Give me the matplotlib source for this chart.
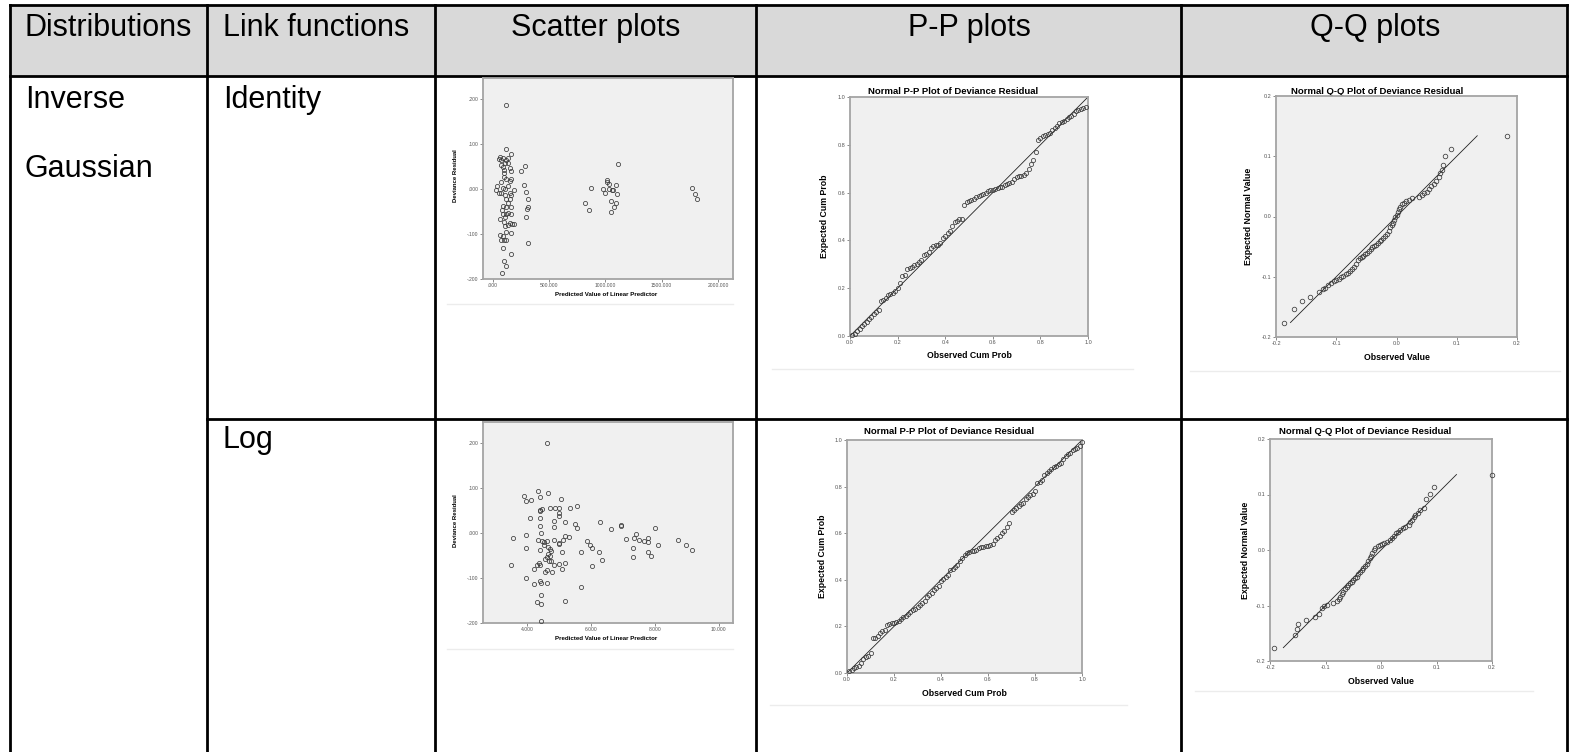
import matplotlib
matplotlib.use('Agg')
import matplotlib.pyplot as plt

# ---------------- table text ----------------
HEADERS = ['Distributions', 'Link functions', 'Scatter plots', 'P-P plots', 'Q-Q plots']
DIST = ['Inverse', 'Gaussian']
LINKS = ['Identity', 'Log']
PP_TITLE = 'Normal P-P Plot of Deviance Residual'
QQ_TITLE = 'Normal Q-Q Plot of Deviance Residual'

# ---------------- scatter: identity link ----------------
S1_X = [119, 113, 163, 59, 89, 74, 119, 134, 54, 104,
        134, 74, 95, 149, 163, 98, 250, 288, 95, 149,
        39, 30, 54, 74, 89, 104, 134, 149, 163, 184,
        273, 297, 312, 119, 149, 89, 163, 119, 312, 303,
        89, 119, 134, 158, 110, 297, 65, 95, 149, 172,
        184, 104, 134, 113, 158, 65, 89, 98, 119, 74,
        312, 89, 158, 98, 113, 83, 83, 134, 104, 68,
        119, 89, 158, 871, 814, 853, 1010, 1016, 1034, 981,
        996, 1034, 1055, 1070, 1091, 1100, 1115, 1046, 1091, 1076,
        1049, 1768, 1792, 1813]
S1_Y = [0.186, 0.090, 0.077, 0.072, 0.070, 0.065, 0.065, 0.068, 0.066, 0.057,
        0.057, 0.053, 0.042, 0.046, 0.041, 0.036, 0.041, 0.051, 0.026, 0.017,
        0.007, -0.003, -0.008, -0.008, 0.003, 0.001, 0.006, -0.009, -0.014, -0.001,
        0.009, -0.006, -0.021, -0.021, -0.021, -0.038, -0.040, -0.040, -0.040, -0.045,
        -0.056, -0.055, -0.053, -0.056, -0.062, -0.062, -0.067, -0.073, -0.076, -0.077,
        -0.077, -0.082, -0.079, -0.096, -0.098, -0.102, -0.105, -0.114, -0.114, -0.114,
        -0.121, -0.130, -0.144, -0.159, -0.172, -0.187, -0.047, -0.032, -0.014, 0.016,
        0.023, 0.050, 0.023, 0.003, -0.031, -0.047, 0.020, 0.016, 0.012, 0.000,
        -0.009, 0.000, -0.001, -0.003, 0.009, -0.010, 0.055, -0.026, -0.031, -0.040,
        -0.050, 0.003, -0.012, -0.023]

# ---------------- scatter: log link ----------------
S2_X = [4.64, 4.33, 3.90, 4.42, 4.67, 4.12, 3.98, 5.07, 4.42, 4.47,
        4.42, 4.73, 4.88, 4.99, 5.33, 5.56, 4.99, 5.00, 4.08, 4.42,
        4.86, 5.19, 6.28, 5.49, 4.42, 4.85, 5.56, 6.63, 6.94, 6.94,
        8.00, 4.44, 3.98, 3.56, 5.19, 5.30, 4.33, 4.47, 4.54, 4.64,
        4.85, 4.99, 4.99, 5.12, 5.87, 5.97, 6.02, 7.11, 7.40, 7.34,
        7.50, 7.65, 7.77, 7.79, 8.72, 8.96, 9.17, 8.09, 7.32, 7.77,
        7.87, 7.30, 3.98, 4.42, 4.67, 4.54, 4.73, 4.75, 4.65, 4.73,
        4.64, 4.57, 4.69, 4.75, 4.85, 4.99, 5.19, 5.09, 5.11, 5.68,
        6.26, 6.34, 6.02, 3.51, 4.31, 4.39, 4.42, 4.23, 4.64, 4.55,
        4.78, 3.98, 4.23, 4.42, 4.45, 4.62, 5.68, 4.45, 4.31, 4.44,
        5.19, 4.45]
S2_Y = [0.200, 0.093, 0.082, 0.081, 0.089, 0.074, 0.071, 0.076, 0.052, 0.054,
        0.048, 0.056, 0.056, 0.056, 0.056, 0.060, 0.045, 0.037, 0.034, 0.034,
        0.027, 0.024, 0.024, 0.021, 0.016, 0.013, 0.012, 0.008, 0.017, 0.016,
        0.012, 0.001, -0.005, -0.010, -0.007, -0.009, -0.016, -0.018, -0.019, -0.017,
        -0.016, -0.022, -0.025, -0.015, -0.018, -0.026, -0.033, -0.014, -0.003, -0.010,
        -0.015, -0.018, -0.011, -0.020, -0.016, -0.027, -0.037, -0.027, -0.033, -0.041,
        -0.050, -0.053, -0.033, -0.037, -0.030, -0.027, -0.036, -0.040, -0.046, -0.051,
        -0.053, -0.057, -0.062, -0.063, -0.070, -0.068, -0.066, -0.079, -0.043, -0.042,
        -0.042, -0.059, -0.073, -0.072, -0.070, -0.067, -0.070, -0.079, -0.083, -0.087,
        -0.087, -0.100, -0.114, -0.107, -0.111, -0.110, -0.121, -0.137, -0.153, -0.157,
        -0.152, -0.196]

# ---------------- P-P: identity link ----------------
PP1_OBS = [0.01, 0.02, 0.03, 0.04, 0.05, 0.06, 0.07, 0.08, 0.09, 0.10,
           0.11, 0.12, 0.13, 0.14, 0.15, 0.16, 0.17, 0.18, 0.19, 0.20,
           0.21, 0.22, 0.23, 0.24, 0.25, 0.26, 0.27, 0.28, 0.29, 0.30,
           0.31, 0.32, 0.33, 0.34, 0.35, 0.36, 0.37, 0.38, 0.39, 0.40,
           0.41, 0.42, 0.43, 0.44, 0.45, 0.46, 0.47, 0.48, 0.49, 0.50,
           0.51, 0.52, 0.53, 0.54, 0.55, 0.56, 0.57, 0.58, 0.59, 0.60,
           0.61, 0.62, 0.63, 0.64, 0.65, 0.66, 0.67, 0.68, 0.69, 0.70,
           0.71, 0.72, 0.73, 0.74, 0.75, 0.76, 0.77, 0.78, 0.79, 0.80,
           0.81, 0.82, 0.83, 0.84, 0.85, 0.86, 0.87, 0.88, 0.89, 0.90,
           0.91, 0.92, 0.93, 0.94, 0.95, 0.96, 0.97, 0.98, 0.99]
PP1_EXP = [0.005, 0.01, 0.02, 0.03, 0.04, 0.05, 0.06, 0.07, 0.08, 0.09,
           0.10, 0.11, 0.145, 0.15, 0.16, 0.17, 0.175, 0.18, 0.19, 0.20,
           0.22, 0.25, 0.255, 0.28, 0.285, 0.29, 0.295, 0.30, 0.31, 0.32,
           0.34, 0.345, 0.35, 0.37, 0.375, 0.38, 0.38, 0.39, 0.41, 0.42,
           0.43, 0.44, 0.46, 0.475, 0.48, 0.49, 0.49, 0.55, 0.56, 0.565,
           0.57, 0.575, 0.58, 0.585, 0.59, 0.595, 0.60, 0.605, 0.61, 0.61,
           0.615, 0.62, 0.625, 0.625, 0.63, 0.635, 0.64, 0.645, 0.655, 0.665,
           0.67, 0.67, 0.675, 0.68, 0.70, 0.72, 0.735, 0.77, 0.82, 0.83,
           0.835, 0.84, 0.845, 0.85, 0.86, 0.87, 0.88, 0.89, 0.895, 0.90,
           0.91, 0.915, 0.92, 0.93, 0.94, 0.945, 0.95, 0.955, 0.96]

# ---------------- P-P: log link ----------------
PP2_OBS = [0.01, 0.02, 0.03, 0.04, 0.05, 0.06, 0.07, 0.08, 0.09, 0.10,
           0.11, 0.12, 0.13, 0.14, 0.15, 0.16, 0.17, 0.18, 0.19, 0.20,
           0.21, 0.22, 0.23, 0.24, 0.25, 0.26, 0.27, 0.28, 0.29, 0.30,
           0.31, 0.32, 0.33, 0.34, 0.35, 0.36, 0.37, 0.38, 0.39, 0.40,
           0.41, 0.42, 0.43, 0.44, 0.45, 0.46, 0.47, 0.48, 0.49, 0.50,
           0.51, 0.52, 0.53, 0.54, 0.55, 0.56, 0.57, 0.58, 0.59, 0.60,
           0.61, 0.62, 0.63, 0.64, 0.65, 0.66, 0.67, 0.68, 0.69, 0.70,
           0.71, 0.72, 0.73, 0.74, 0.75, 0.76, 0.77, 0.78, 0.79, 0.80,
           0.81, 0.82, 0.83, 0.84, 0.85, 0.86, 0.87, 0.88, 0.89, 0.90,
           0.91, 0.92, 0.93, 0.94, 0.95, 0.96, 0.97, 0.98, 0.99, 1.00]
PP2_EXP = [0.01, 0.015, 0.02, 0.025, 0.03, 0.045, 0.06, 0.07, 0.075, 0.085,
           0.15, 0.15, 0.16, 0.17, 0.18, 0.185, 0.205, 0.21, 0.215, 0.215,
           0.22, 0.225, 0.23, 0.24, 0.245, 0.255, 0.26, 0.27, 0.275, 0.285,
           0.29, 0.30, 0.31, 0.325, 0.335, 0.345, 0.355, 0.365, 0.375, 0.395,
           0.405, 0.41, 0.42, 0.44, 0.445, 0.455, 0.465, 0.48, 0.495, 0.505,
           0.515, 0.52, 0.525, 0.525, 0.53, 0.535, 0.54, 0.54, 0.545, 0.545,
           0.55, 0.555, 0.57, 0.58, 0.59, 0.60, 0.61, 0.625, 0.645, 0.69,
           0.70, 0.71, 0.715, 0.725, 0.73, 0.745, 0.755, 0.765, 0.77, 0.78,
           0.815, 0.82, 0.83, 0.85, 0.86, 0.865, 0.875, 0.885, 0.89, 0.895,
           0.90, 0.92, 0.93, 0.94, 0.945, 0.955, 0.96, 0.965, 0.975, 0.99]

# ---------------- Q-Q: identity link ----------------
QQ1_OBS = [-0.187, -0.170, -0.157, -0.143, -0.128, -0.122, -0.118, -0.113, -0.109, -0.104,
           -0.100, -0.096, -0.092, -0.088, -0.084, -0.080, -0.077, -0.074, -0.071, -0.068,
           -0.064, -0.061, -0.058, -0.055, -0.052, -0.049, -0.046, -0.043, -0.040, -0.037,
           -0.034, -0.031, -0.028, -0.025, -0.022, -0.019, -0.016, -0.013, -0.010, -0.008,
           -0.006, -0.004, -0.002, 0.000, 0.002, 0.004, 0.006, 0.009, 0.012, 0.016,
           0.020, 0.026, 0.038, 0.042, 0.046, 0.050, 0.054, 0.058, 0.062, 0.066,
           0.070, 0.073, 0.076, 0.078, 0.080, 0.090, 0.184]
QQ1_EXP = [-0.176, -0.153, -0.141, -0.133, -0.126, -0.121, -0.118, -0.114, -0.110, -0.107,
           -0.105, -0.103, -0.101, -0.099, -0.096, -0.094, -0.090, -0.087, -0.083, -0.079,
           -0.073, -0.069, -0.067, -0.065, -0.063, -0.060, -0.057, -0.054, -0.051, -0.049,
           -0.047, -0.044, -0.041, -0.039, -0.036, -0.033, -0.029, -0.024, -0.018, -0.014,
           -0.010, -0.006, -0.001, 0.003, 0.008, 0.012, 0.016, 0.020, 0.023, 0.026,
           0.028, 0.031, 0.033, 0.036, 0.039, 0.041, 0.045, 0.050, 0.054, 0.059,
           0.066, 0.072, 0.077, 0.086, 0.101, 0.112, 0.134]

# ---------------- Q-Q: log link ----------------
QQ2_OBS = [-0.192, -0.155, -0.152, -0.149, -0.135, -0.119, -0.111, -0.107, -0.102, -0.098,
           -0.086, -0.080, -0.076, -0.074, -0.071, -0.068, -0.065, -0.062, -0.059, -0.056,
           -0.053, -0.050, -0.047, -0.044, -0.041, -0.038, -0.035, -0.032, -0.029, -0.026,
           -0.023, -0.020, -0.018, -0.016, -0.013, -0.010, -0.006, -0.002, 0.001, 0.006,
           0.011, 0.016, 0.020, 0.024, 0.027, 0.031, 0.035, 0.040, 0.044, 0.050,
           0.053, 0.056, 0.059, 0.062, 0.066, 0.071, 0.078, 0.081, 0.089, 0.095,
           0.200]
QQ2_EXP = [-0.176, -0.154, -0.143, -0.134, -0.127, -0.120, -0.116, -0.104, -0.101, -0.099,
           -0.096, -0.092, -0.089, -0.085, -0.080, -0.075, -0.070, -0.066, -0.063, -0.060,
           -0.057, -0.054, -0.051, -0.048, -0.044, -0.040, -0.036, -0.032, -0.028, -0.025,
           -0.020, -0.015, -0.010, -0.005, 0.000, 0.004, 0.007, 0.009, 0.011, 0.013,
           0.015, 0.018, 0.021, 0.026, 0.030, 0.033, 0.036, 0.039, 0.041, 0.045,
           0.050, 0.054, 0.059, 0.063, 0.067, 0.072, 0.075, 0.092, 0.101, 0.113,
           0.136]

S1_XTICKS = [0, 500, 1000, 1500, 2000]
S1_XLABELS = ['.000', '500.000', '1000.000', '1500.000', '2000.000']
S2_XTICKS = [4, 6, 8, 10]
S2_XLABELS = ['4.000', '6.000', '8.000', '10.000']
S_YTICKS = [-0.2, -0.1, 0.0, 0.1, 0.2]
S_YLABELS = ['-.200', '-.100', '.000', '.100', '.200']
PP_TICKS = [0.0, 0.2, 0.4, 0.6, 0.8, 1.0]
PP_LABELS = ['0.0', '0.2', '0.4', '0.6', '0.8', '1.0']
QQ_TICKS = [-0.2, -0.1, 0.0, 0.1, 0.2]
QQ_LABELS = ['-0.2', '-0.1', '0.0', '0.1', '0.2']

# ---------------- figure, everything in pixel coords ----------------
W, H = 1571, 752
fig = plt.figure(figsize=(W / 100, H / 100), dpi=100, facecolor='white')
bg = fig.add_axes([0, 0, 1, 1])
bg.set_xlim(0, W); bg.set_ylim(H, 0); bg.axis('off')

TAB = 'Liberation Sans'
PLT = 'Liberation Sans'
LW = 2.0
COLS = [10, 207, 435, 756, 1181, 1567]

bg.fill_between([COLS[0], COLS[-1]], 5, 76, color='#d9d9d9', lw=0)
bg.plot([COLS[0], COLS[-1]], [5, 5], color='black', lw=LW)
bg.plot([COLS[0], COLS[-1]], [76, 76], color='black', lw=LW)
bg.plot([COLS[1], COLS[-1]], [419, 419], color='black', lw=LW)
for c in COLS:
    bg.plot([c, c], [5, H], color='black', lw=LW)

hx = [(25, 'left'), (223, 'left'), (596, 'center'), (969, 'center'), (1375, 'center')]
for (x, ha), s in zip(hx, HEADERS):
    bg.text(x, 36, s, ha=ha, va='baseline', fontsize=22, family=TAB)
bg.text(25, 108, DIST[0], va='baseline', fontsize=22, family=TAB)
bg.text(25, 177, DIST[1], va='baseline', fontsize=22, family=TAB)
bg.text(223, 108, LINKS[0], va='baseline', fontsize=22, family=TAB)
bg.text(223, 448, LINKS[1], va='baseline', fontsize=22, family=TAB)

# faint bottom edges of the pasted SPSS pictures
for y, x0, x1 in [(304, 447, 733), (369, 772, 1133), (371, 1190, 1560),
                  (649, 447, 733), (705, 770, 1127), (691, 1195, 1533)]:
    bg.plot([x0, x1], [y, y], color='#ececec', lw=1.0)


def spss_axes(l, t, r, b, xlim, ylim, xt, xl, yt, yl, fs):
    ax = fig.add_axes([l / W, 1 - b / H, (r - l) / W, (b - t) / H])
    ax.set_facecolor('#f0f0f0')
    ax.set_xlim(xlim); ax.set_ylim(ylim)
    ax.set_xticks(xt); ax.set_xticklabels(xl, family=PLT)
    ax.set_yticks(yt); ax.set_yticklabels(yl, family=PLT)
    for sp in ax.spines.values():
        sp.set_color('#a4a4a4'); sp.set_linewidth(1.3)
    ax.tick_params(length=2.2, width=0.6, color='#777777', labelsize=fs,
                   labelcolor='#555555', pad=1)
    return ax


def circles(ax, x, y, ms):
    ax.plot(x, y, 'o', ms=ms, mfc='none', mec='#3a3a3a', mew=0.55, clip_on=False, zorder=3)


# scatter plots
a = spss_axes(483, 78, 733, 279, (-89, 2134), (-0.2, 0.247),
              S1_XTICKS, S1_XLABELS, S_YTICKS, S_YLABELS, 3.6)
circles(a, S1_X, S1_Y, 3.0)
bg.text(606, 295, 'Predicted Value of Linear Predictor', ha='center', va='center',
        fontsize=4.4, weight='bold', family=PLT)
bg.text(456, 176, 'Deviance Residual', ha='center', va='center', rotation=90,
        fontsize=4.3, weight='bold', family=PLT)

a = spss_axes(483, 422, 733, 623, (2.625, 10.44), (-0.2, 0.247),
              S2_XTICKS, S2_XLABELS, S_YTICKS, S_YLABELS, 3.6)
circles(a, S2_X, S2_Y, 3.0)
bg.text(606, 639, 'Predicted Value of Linear Predictor', ha='center', va='center',
        fontsize=4.4, weight='bold', family=PLT)
bg.text(456, 521, 'Deviance Residual', ha='center', va='center', rotation=90,
        fontsize=4.3, weight='bold', family=PLT)

# P-P plots
for (l, t, r, b, tx, ty, xy, yx), (ox, ex) in zip(
        [(850, 97, 1088, 336, 953, 91, 356, 825), (847, 440, 1082, 673, 949, 432, 694, 823)],
        [(PP1_OBS, PP1_EXP), (PP2_OBS, PP2_EXP)]):
    a = spss_axes(l, t, r, b, (0, 1), (0, 1), PP_TICKS, PP_LABELS, PP_TICKS, PP_LABELS, 4.0)
    a.plot([0, 1], [0, 1], color='#222222', lw=0.6, zorder=2)
    circles(a, ox, ex, 3.0)
    bg.text(tx, ty, PP_TITLE, ha='center', va='center', fontsize=6.8, weight='bold', family=PLT)
    bg.text((l + r) / 2, xy, 'Observed Cum Prob', ha='center', va='center',
            fontsize=6.3, weight='bold', family=PLT)
    bg.text(yx, (t + b) / 2, 'Expected Cum Prob', ha='center', va='center', rotation=90,
            fontsize=6.3, weight='bold', family=PLT)

# Q-Q plots
for (l, t, r, b, tx, ty, xy, yx), (ox, ex) in zip(
        [(1276, 96, 1517, 337, 1377, 92, 358, 1249), (1270, 439, 1492, 661, 1365, 432, 681, 1246)],
        [(QQ1_OBS, QQ1_EXP), (QQ2_OBS, QQ2_EXP)]):
    a = spss_axes(l, t, r, b, (-0.2, 0.2), (-0.2, 0.2), QQ_TICKS, QQ_LABELS, QQ_TICKS, QQ_LABELS, 4.0)
    lo, hi = min(ex), max(ex)
    a.plot([lo, hi], [lo, hi], color='#222222', lw=0.6, zorder=2)
    circles(a, ox, ex, 3.3)
    bg.text(tx, ty, QQ_TITLE, ha='center', va='center', fontsize=6.8, weight='bold', family=PLT)
    bg.text((l + r) / 2, xy, 'Observed Value', ha='center', va='center',
            fontsize=6.3, weight='bold', family=PLT)
    bg.text(yx, (t + b) / 2, 'Expected Normal Value', ha='center', va='center', rotation=90,
            fontsize=6.3, weight='bold', family=PLT)

fig.savefig('out.png', dpi=100, facecolor='white')
